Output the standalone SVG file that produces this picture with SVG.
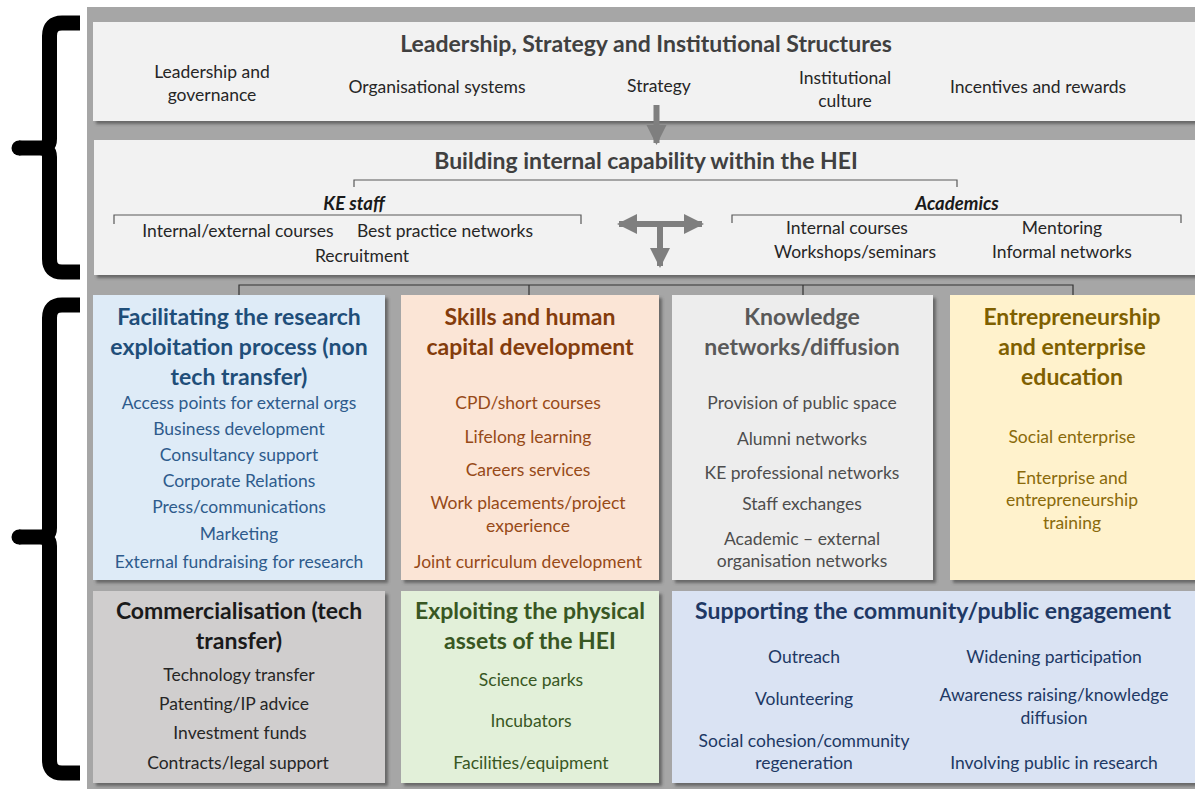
<svg xmlns="http://www.w3.org/2000/svg" width="1195" height="789" viewBox="0 0 1195 789">
<defs>
<filter id="sh" x="-5%" y="-5%" width="115%" height="115%">
<feDropShadow dx="3" dy="3" stdDeviation="1.8" flood-color="#4d4d4d" flood-opacity="0.7"/>
</filter>
<marker id="ah" viewBox="0 0 10 10" refX="9" refY="5" markerWidth="3.4" markerHeight="4.2" orient="auto-start-reverse" markerUnits="strokeWidth">
<path d="M0,0 L10,5 L0,10 z" fill="#7f7f7f"/>
</marker>
<style>
text{font-family:Lato,"Open Sans","Liberation Sans",sans-serif;text-anchor:middle}
.t{font-size:23px;font-weight:bold;fill:#404040}
.i{font-size:17.5px;fill:#262626}
.bi{font-size:18.5px;font-weight:bold;font-style:italic;fill:#1a1a1a}
.h{font-size:23px;font-weight:bold}
.s{font-size:17.5px}
.brace{fill:none;stroke:#000;stroke-width:15;stroke-linejoin:round}
.br{fill:none;stroke:#595959;stroke-width:1.2}
.con{fill:none;stroke:#333;stroke-width:1.2}
.arr{fill:none;stroke:#7f7f7f;stroke-width:6}
</style>
</defs>
<rect width="1195" height="789" fill="#fff"/>
<rect x="87" y="7" width="1108" height="782" fill="#a6a6a6"/>

<g id="brace-top">
<path class="brace" d="M80,23 H62 Q49.5,23 49.5,36 V139 Q49.5,148 40,148 H19 M40,148 Q49.5,148 49.5,157 V259 Q49.5,272 62,272 H80"/>
<circle cx="19" cy="148" r="7.5" fill="#000"/>
</g>
<g id="brace-bottom">
<path class="brace" d="M80,305 H62 Q49.5,305 49.5,318 V528 Q49.5,537 40,537 H19 M40,537 Q49.5,537 49.5,546 V760 Q49.5,773 62,773 H80"/>
<circle cx="19" cy="537" r="7.5" fill="#000"/>
</g>

<g id="leadership">
<rect x="93" y="22" width="1110" height="99" fill="#f2f2f2" filter="url(#sh)"/>
<text class="t" x="646" y="52">Leadership, Strategy and Institutional Structures</text>
<text class="i" x="212" y="78">Leadership and</text>
<text class="i" x="212" y="101">governance</text>
<text class="i" x="437" y="93">Organisational systems</text>
<text class="i" x="659" y="92">Strategy</text>
<text class="i" x="845" y="84">Institutional</text>
<text class="i" x="845" y="107">culture</text>
<text class="i" x="1038" y="93">Incentives and rewards</text>
</g>

<g id="capability">
<rect x="94" y="140" width="1110" height="135" fill="#f2f2f2" filter="url(#sh)"/>
<text class="t" x="646" y="169">Building internal capability within the HEI</text>
<path class="br" d="M354,187 V180 H957 V187"/>
<text class="bi" x="354" y="210">KE staff</text>
<text class="bi" x="957" y="210">Academics</text>
<path class="br" d="M114,224 V215 H581 V224"/>
<path class="br" d="M732,223 V215 H1181 V223"/>
<text class="i" x="238" y="237">Internal/external courses</text>
<text class="i" x="445" y="237">Best practice networks</text>
<text class="i" x="362" y="262">Recruitment</text>
<text class="i" x="847" y="234">Internal courses</text>
<text class="i" x="1062" y="234">Mentoring</text>
<text class="i" x="855" y="258">Workshops/seminars</text>
<text class="i" x="1062" y="258">Informal networks</text>
</g>

<g id="connectors">
<line class="arr" x1="656.5" y1="105" x2="656.5" y2="143" marker-end="url(#ah)"/>
<line class="arr" x1="619" y1="224" x2="702" y2="224" marker-start="url(#ah)" marker-end="url(#ah)"/>
<line class="arr" x1="660" y1="224" x2="660" y2="266" marker-end="url(#ah)"/>
<path class="con" d="M239,296 V285 H1073 V296 M529,285 V296 M803,285 V296"/>
</g>

<g id="research-exploitation">
<rect x="93" y="295" width="292" height="285" fill="#deebf7" filter="url(#sh)"/>
<g class="h" fill="#1f4e79">
<text x="239" y="325">Facilitating the research</text>
<text x="239" y="355">exploitation process (non</text>
<text x="239" y="385">tech transfer)</text>
</g>
<g class="s" fill="#2e5b8c">
<text x="239" y="409">Access points for external orgs</text>
<text x="239" y="435">Business development</text>
<text x="239" y="461">Consultancy support</text>
<text x="239" y="487">Corporate Relations</text>
<text x="239" y="513">Press/communications</text>
<text x="239" y="540">Marketing</text>
<text x="239" y="568">External fundraising for research</text>
</g>
</g>

<g id="skills">
<rect x="401" y="295" width="258" height="285" fill="#fbe5d6" filter="url(#sh)"/>
<g class="h" fill="#843c0c">
<text x="530" y="325">Skills and human</text>
<text x="530" y="355">capital development</text>
</g>
<g class="s" fill="#974a18">
<text x="528" y="409">CPD/short courses</text>
<text x="528" y="443">Lifelong learning</text>
<text x="528" y="476">Careers services</text>
<text x="528" y="509">Work placements/project</text>
<text x="528" y="532">experience</text>
<text x="528" y="568">Joint curriculum development</text>
</g>
</g>

<g id="knowledge-networks">
<rect x="672" y="295" width="261" height="285" fill="#ededed" filter="url(#sh)"/>
<g class="h" fill="#595959">
<text x="802" y="325">Knowledge</text>
<text x="802" y="355">networks/diffusion</text>
</g>
<g class="s" fill="#4d4d4d">
<text x="802" y="409">Provision of public space</text>
<text x="802" y="445">Alumni networks</text>
<text x="802" y="479">KE professional networks</text>
<text x="802" y="510">Staff exchanges</text>
<text x="802" y="545">Academic – external</text>
<text x="802" y="567">organisation networks</text>
</g>
</g>

<g id="entrepreneurship">
<rect x="950" y="295" width="250" height="285" fill="#fff2cc" filter="url(#sh)"/>
<g class="h" fill="#7f6000">
<text x="1072" y="325">Entrepreneurship</text>
<text x="1072" y="355">and enterprise</text>
<text x="1072" y="385">education</text>
</g>
<g class="s" fill="#8a6a0a">
<text x="1072" y="443">Social enterprise</text>
<text x="1072" y="484">Enterprise and</text>
<text x="1072" y="506">entrepreneurship</text>
<text x="1072" y="529">training</text>
</g>
</g>

<g id="commercialisation">
<rect x="93" y="591" width="292" height="192" fill="#d0cece" filter="url(#sh)"/>
<g class="h" fill="#1a1a1a">
<text x="239" y="619">Commercialisation (tech</text>
<text x="239" y="649">transfer)</text>
</g>
<g class="s" fill="#262626">
<text x="239" y="681">Technology transfer</text>
<text x="234" y="710">Patenting/IP advice</text>
<text x="240" y="739">Investment funds</text>
<text x="238" y="769">Contracts/legal support</text>
</g>
</g>

<g id="physical-assets">
<rect x="401" y="591" width="258" height="192" fill="#e2f0d9" filter="url(#sh)"/>
<g class="h" fill="#385723">
<text x="530" y="619">Exploiting the physical</text>
<text x="530" y="649">assets of the HEI</text>
</g>
<g class="s" fill="#385723">
<text x="531" y="686">Science parks</text>
<text x="531" y="727">Incubators</text>
<text x="531" y="769">Facilities/equipment</text>
</g>
</g>

<g id="community">
<rect x="672" y="591" width="530" height="192" fill="#dae3f3" filter="url(#sh)"/>
<text class="h" x="933" y="619" fill="#203864">Supporting the community/public engagement</text>
<g class="s" fill="#203864">
<text x="804" y="663">Outreach</text>
<text x="804" y="705">Volunteering</text>
<text x="804" y="747">Social cohesion/community</text>
<text x="804" y="769">regeneration</text>
<text x="1054" y="663">Widening participation</text>
<text x="1054" y="701">Awareness raising/knowledge</text>
<text x="1054" y="724">diffusion</text>
<text x="1054" y="769">Involving public in research</text>
</g>
</g>
</svg>
